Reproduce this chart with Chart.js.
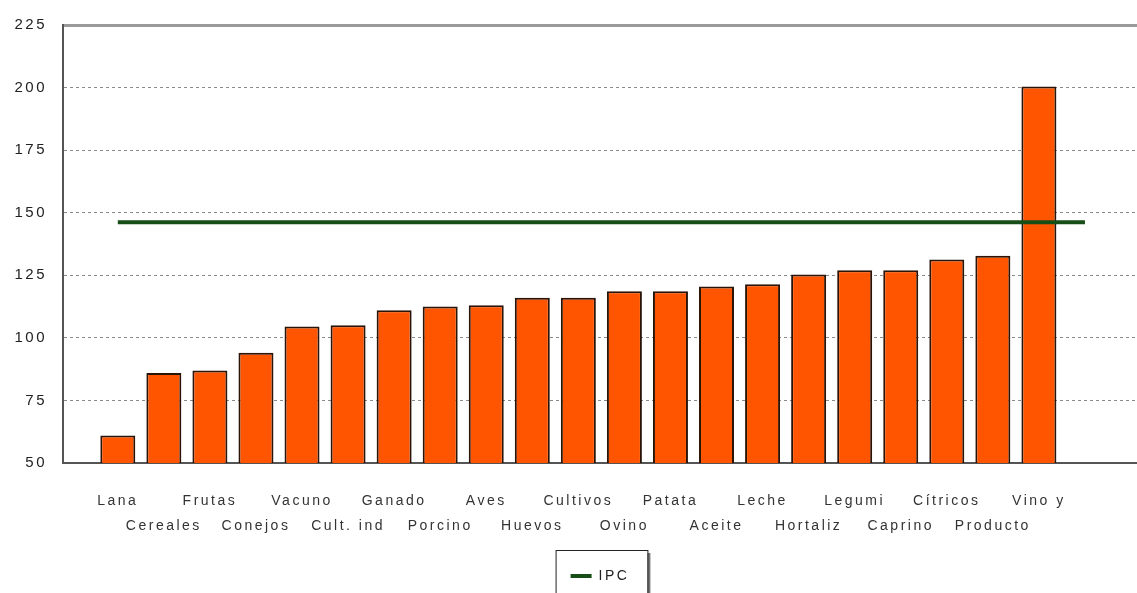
<!DOCTYPE html>
<html>
<head>
<meta charset="utf-8">
<script src="https://cdn.jsdelivr.net/npm/chart.js@4.4.0/dist/chart.umd.min.js"></script>
<style>
html, body { margin: 0; padding: 0; background: #fff; }
#contenedor { width: 1137px; height: 593px; position: relative; }
</style>
</head>
<body>
<div id="contenedor"><canvas id="preciosChart"></canvas></div>
<script>
// datos
var categorias = ['Lana', 'Cereales', 'Frutas', 'Conejos', 'Vacuno', 'Cult. ind', 'Ganado', 'Porcino', 'Aves', 'Huevos', 'Cultivos', 'Ovino', 'Patata', 'Aceite', 'Leche', 'Hortaliz', 'Legumi', 'Caprino', 'Cítricos', 'Producto', 'Vino y'];
var precios = [61, 86, 87, 94, 104.5, 105, 111, 112.5, 113, 116, 116, 118.6, 118.6, 120.5, 121.4, 125.3, 127, 127, 131.3, 132.8, 200.4];
var ipc = [146.2, 146.2, 146.2, 146.2, 146.2, 146.2, 146.2, 146.2, 146.2, 146.2, 146.2, 146.2, 146.2, 146.2, 146.2, 146.2, 146.2, 146.2, 146.2, 146.2, 146.2, 146.2];
var ticksY = [50, 75, 100, 125, 150, 175, 200, 225];

document.addEventListener("DOMContentLoaded", function () {
    var canvas = document.getElementById('preciosChart');
    if (!canvas) return;
    var ctx = canvas.getContext('2d');

    // espaciado de letras como en el original
    var espaciado = {
        id: 'espaciado',
        beforeUpdate: function (chart) { chart.ctx.letterSpacing = '2.5px'; },
        beforeDraw: function (chart) { chart.ctx.letterSpacing = '2.5px'; }
    };

    // marco de la leyenda
    var marcoLeyenda = {
        id: 'marcoLeyenda',
        afterDraw: function (chart) {
            var hb = chart.legend && chart.legend.legendHitBoxes && chart.legend.legendHitBoxes[0];
            if (!hb) return;
            var c = chart.ctx;
            var cy = hb.top + hb.height / 2;
            var x1 = hb.left - 15, x2 = hb.left + hb.width + 18;
            var y1 = cy - 26, y2 = chart.height + 10;
            c.save();
            c.letterSpacing = '0px';
            c.fillStyle = '#777';
            c.fillRect(x2, y1 + 3, 3, y2 - y1);
            c.strokeStyle = '#222';
            c.lineWidth = 1;
            c.strokeRect(x1 + 0.5, y1 + 0.5, x2 - x1, y2 - y1);
            c.restore();
        }
    };

    new Chart(ctx, {
        type: 'bar',
        data: {
            datasets: [{
                type: 'bar',
                label: 'Precios',
                data: precios.map(function (v, i) { return { x: i, y: v }; }),
                backgroundColor: '#ff5500',
                borderColor: '#2a1408',
                borderWidth: 2,
                borderSkipped: false,
                categoryPercentage: 1,
                barPercentage: 0.76,
                order: 2
            }, {
                type: 'line',
                label: 'IPC',
                data: ipc.map(function (v, i) { return { x: i, y: v }; }),
                borderColor: '#174d17',
                backgroundColor: '#174d17',
                borderWidth: 4,
                pointRadius: 0,
                fill: false,
                order: 1
            }]
        },
        options: {
            responsive: true,
            maintainAspectRatio: false,
            animation: false,
            layout: { padding: { top: 21, right: 0, left: 0, bottom: 0 } },
            plugins: {
                tooltip: { enabled: false },
                legend: {
                    position: 'bottom',
                    fullSize: false,
                    labels: {
                        filter: function (item) { return item.datasetIndex === 1; },
                        usePointStyle: true,
                        pointStyle: 'line',
                        pointStyleWidth: 21,
                        padding: 10,
                        color: '#222',
                        font: { family: 'Arial, "Liberation Sans", sans-serif', size: 14 }
                    }
                }
            },
            scales: {
                x: {
                    type: 'linear',
                    offset: false,
                    min: -1.19,
                    max: 22.13,
                    afterBuildTicks: function (axis) {
                        axis.ticks = categorias.map(function (c, i) { return { value: i }; });
                    },
                    afterFit: function (axis) { axis.height = 96; },
                    grid: { display: false, offset: false },
                    border: { display: true, color: '#555', width: 2 },
                    ticks: {
                        autoSkip: false,
                        maxRotation: 0,
                        padding: 18,
                        color: '#333',
                        font: { family: 'Arial, "Liberation Sans", sans-serif', size: 14, lineHeight: '25px' },
                        callback: function (value) {
                            var i = Math.round(value);
                            return i % 2 ? ['', categorias[i]] : categorias[i];
                        }
                    }
                },
                y: {
                    min: 50,
                    max: 225,
                    afterBuildTicks: function (axis) {
                        axis.ticks = ticksY.map(function (v) { return { value: v }; });
                    },
                    afterFit: function (axis) { axis.width = 63; },
                    grid: {
                        drawTicks: false,
                        color: function (c) {
                            if (c.tick.value === 225) return '#9a9a9a';
                            if (c.tick.value === 50) return 'rgba(0,0,0,0)';
                            return '#8a8a8a';
                        },
                        lineWidth: function (c) { return c.tick.value === 225 ? 3 : 1; }
                    },
                    border: {
                        display: true,
                        color: '#555',
                        width: 2,
                        dash: function (c) { return c.tick && c.tick.value === 225 ? [] : [3, 3]; }
                    },
                    ticks: {
                        padding: 16,
                        color: '#222',
                        font: { family: 'Arial, "Liberation Sans", sans-serif', size: 15 }
                    }
                }
            }
        },
        plugins: [espaciado, marcoLeyenda]
    });
});
</script>
</body>
</html>
